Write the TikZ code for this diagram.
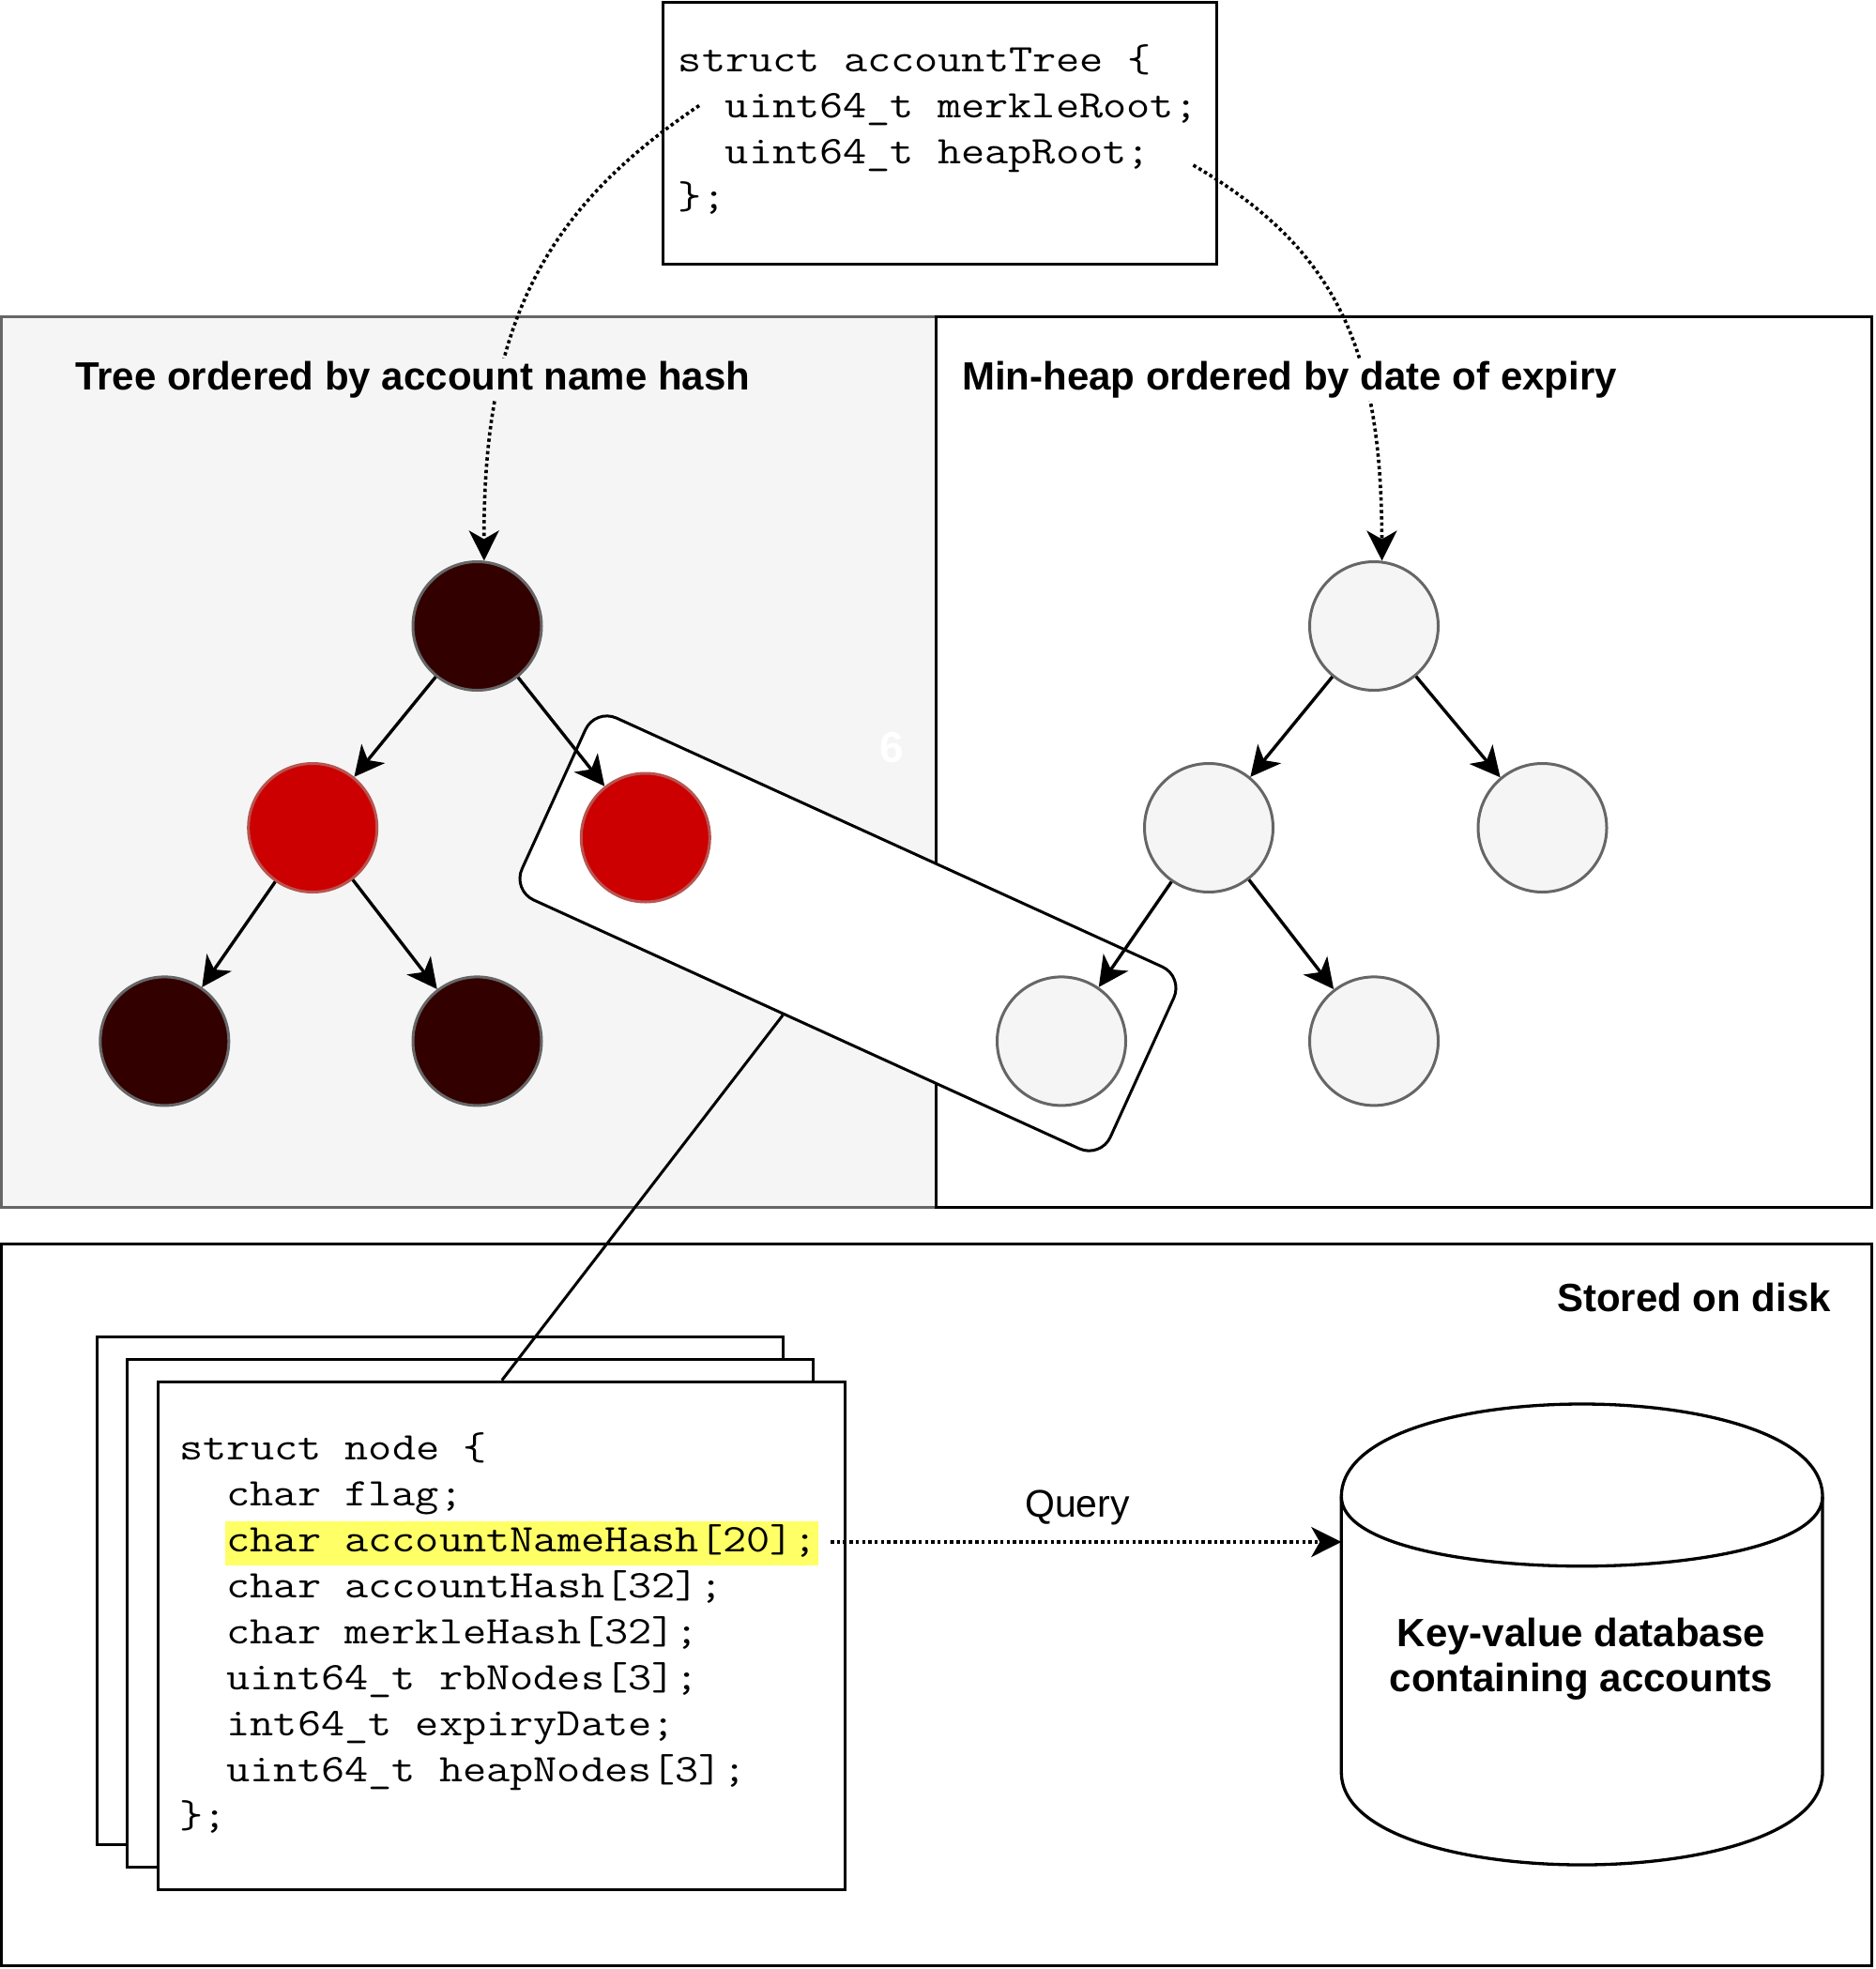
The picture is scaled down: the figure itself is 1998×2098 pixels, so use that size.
\documentclass[tikz,border=0pt]{standalone}
\usepackage{fontspec}
\setsansfont{Liberation Sans}
\usetikzlibrary{arrows.meta}
\definecolor{darknode}{HTML}{330000}
\definecolor{rednode}{HTML}{CC0000}
\definecolor{redstroke}{HTML}{B85450}
\definecolor{graystroke}{HTML}{666666}
\definecolor{lightfill}{HTML}{F5F5F5}
\definecolor{hlyellow}{HTML}{FFFF66}
\tikzset{
  tnode/.style={circle, minimum size=137pt, inner sep=0pt, line width=3pt},
  darkn/.style={tnode, fill=darknode, draw=graystroke},
  redn/.style={tnode, fill=rednode, draw=redstroke},
  lightn/.style={tnode, fill=lightfill, draw=graystroke},
  arrowline/.style={line width=3.4pt, -{Stealth[length=32pt,width=32pt,inset=9pt]}},
  dotarrow/.style={arrowline, line width=3.6pt, dash pattern=on 3.5pt off 3.2pt},
  codetxt/.style={font=\ttfamily\fontsize{41.7}{49}\selectfont, anchor=base west, inner sep=0pt, xscale=1.172},
  paneltitle/.style={font=\sffamily\bfseries\fontsize{42}{50}\selectfont, inner sep=0pt},
  cbox/.style={draw, fill=white, line width=3pt, inner sep=0pt, anchor=north west},
}
\begin{document}
\begin{tikzpicture}[x=1pt,y=-1pt]
\useasboundingbox (0,0) rectangle (1998,2098);

% panels
\draw[fill=lightfill, draw=graystroke, line width=3pt] (1.5,337) rectangle (997,1286);
\draw[line width=3pt] (997,337) rectangle (1994.5,1286);
\draw[line width=3pt] (1.5,1325) rectangle (1994.5,2094.5);

% top struct
\node[cbox, minimum width=590pt, minimum height=278.5pt] (atree) at (705,1.5) {};
\node[codetxt] (at1) at (722.6,77) {struct accountTree \{};
\node[codetxt] (at2) at (772.6,125.5) {uint64\_t merkleRoot;};
\node[codetxt] (at3) at (772.6,174) {uint64\_t heapRoot;};
\node[codetxt] (at4) at (722.6,222.5) {\};};

\node[font=\sffamily\bfseries\fontsize{46}{50}\selectfont, text=white, inner sep=0pt] (six) at (950,797) {6};

% selection rectangle
\node[draw, fill=white, line width=3pt, rounded corners=25pt, minimum width=689pt, minimum height=213pt, rotate=-24.5, inner sep=0pt] (sel) at (903.5,994.5) {};

% tree nodes
\node[darkn] (Lr) at (508.5,667) {};
\node[redn] (La) at (333.2,882) {};
\node[redn] (Lb) at (687.8,892.5) {};
\node[darkn] (Lc) at (175.3,1109.4) {};
\node[darkn] (Ld) at (508.5,1109.4) {};
% heap nodes
\node[lightn] (Hr) at (1464,667) {};
\node[lightn] (Ha) at (1288,882) {};
\node[lightn] (Hb) at (1643.5,882) {};
\node[lightn] (Hc) at (1131,1109.4) {};
\node[lightn] (Hd) at (1464,1109.4) {};

\draw[arrowline] (Lr) -- (La);
\draw[arrowline] (Lr) -- (Lb);
\draw[arrowline] (La) -- (Lc);
\draw[arrowline] (La) -- (Ld);
\draw[arrowline] (Hr) -- (Ha);
\draw[arrowline] (Hr) -- (Hb);
\draw[arrowline] (Ha) -- (Hc);
\draw[arrowline] (Ha) -- (Hd);

% root pointers
\coordinate (mroot) at (745,112.5);
\coordinate (hroot) at (1271.5,176);
\draw[dotarrow] (mroot) .. controls (579,224) and (515,347) .. (Lr.84);
\draw[dotarrow] (hroot) .. controls (1426.5,266.5) and (1472,375) .. (Hr.83);

% titles (opaque, over the pointers)
\node[paneltitle, anchor=base west, fill=lightfill, inner ysep=3pt] (t1) at (80,415) {Tree ordered by account name hash};
\node[paneltitle, anchor=base west, fill=white, inner ysep=3pt] (t2) at (1025,415) {Min-heap ordered by date of expiry};
\node[paneltitle, anchor=base east] (t3) at (1951,1397) {Stored on disk};

% node struct stack
\node[cbox, minimum width=731pt, minimum height=541pt] (back) at (101.7,1422.5) {};
\node[cbox, minimum width=731pt, minimum height=541pt] (mid) at (133.8,1446.6) {};
\node[cbox, minimum width=732pt, minimum height=541pt] (front) at (167.3,1470.7) {};
\draw[line width=3pt] (sel.256) -- (front.north);

\node[fill=hlyellow, inner sep=0pt, minimum width=632pt, minimum height=47pt, anchor=north west] (hl) at (239.5,1620.5) {};
\node[codetxt] (c1) at (191.4,1555) {struct node \{};
\node[codetxt] (c2) at (241.4,1604) {char flag;};
\node[codetxt] (c3) at (241.4,1653) {char accountNameHash[20];};
\node[codetxt] (c4) at (241.4,1702) {char accountHash[32];};
\node[codetxt] (c5) at (241.4,1751) {char merkleHash[32];};
\node[codetxt] (c6) at (241.4,1800) {uint64\_t rbNodes[3];};
\node[codetxt] (c7) at (241.4,1849) {int64\_t expiryDate;};
\node[codetxt] (c8) at (241.4,1898) {uint64\_t heapNodes[3];};
\node[codetxt] (c9) at (191.4,1947) {\};};

% database
\node[minimum width=512.7pt, minimum height=491pt, inner sep=0pt, anchor=north west] (db) at (1429.3,1496) {};
\draw[line width=3.3pt, fill=white] (1429.3,1594.7) .. controls (1429.3,1463.1) and (1942,1463.1) .. (1942,1594.7) -- (1942,1888.3) .. controls (1942,2019.9) and (1429.3,2019.9) .. (1429.3,1888.3) -- cycle;
\draw[line width=3.3pt] (1429.3,1594.7) .. controls (1429.3,1693.4) and (1942,1693.4) .. (1942,1594.7);
\node[paneltitle, anchor=base] (k1) at (1685,1754) {Key-value database};
\node[paneltitle, anchor=base] (k2) at (1685,1802) {containing accounts};

\coordinate (qs) at (885,1643);
\draw[dotarrow] (qs) -- (qs -| db.west);
\node[font=\sffamily\fontsize{41}{49}\selectfont, inner sep=0pt, anchor=base] (ql) at (1148,1616) {Query};
\end{tikzpicture}
\end{document}
